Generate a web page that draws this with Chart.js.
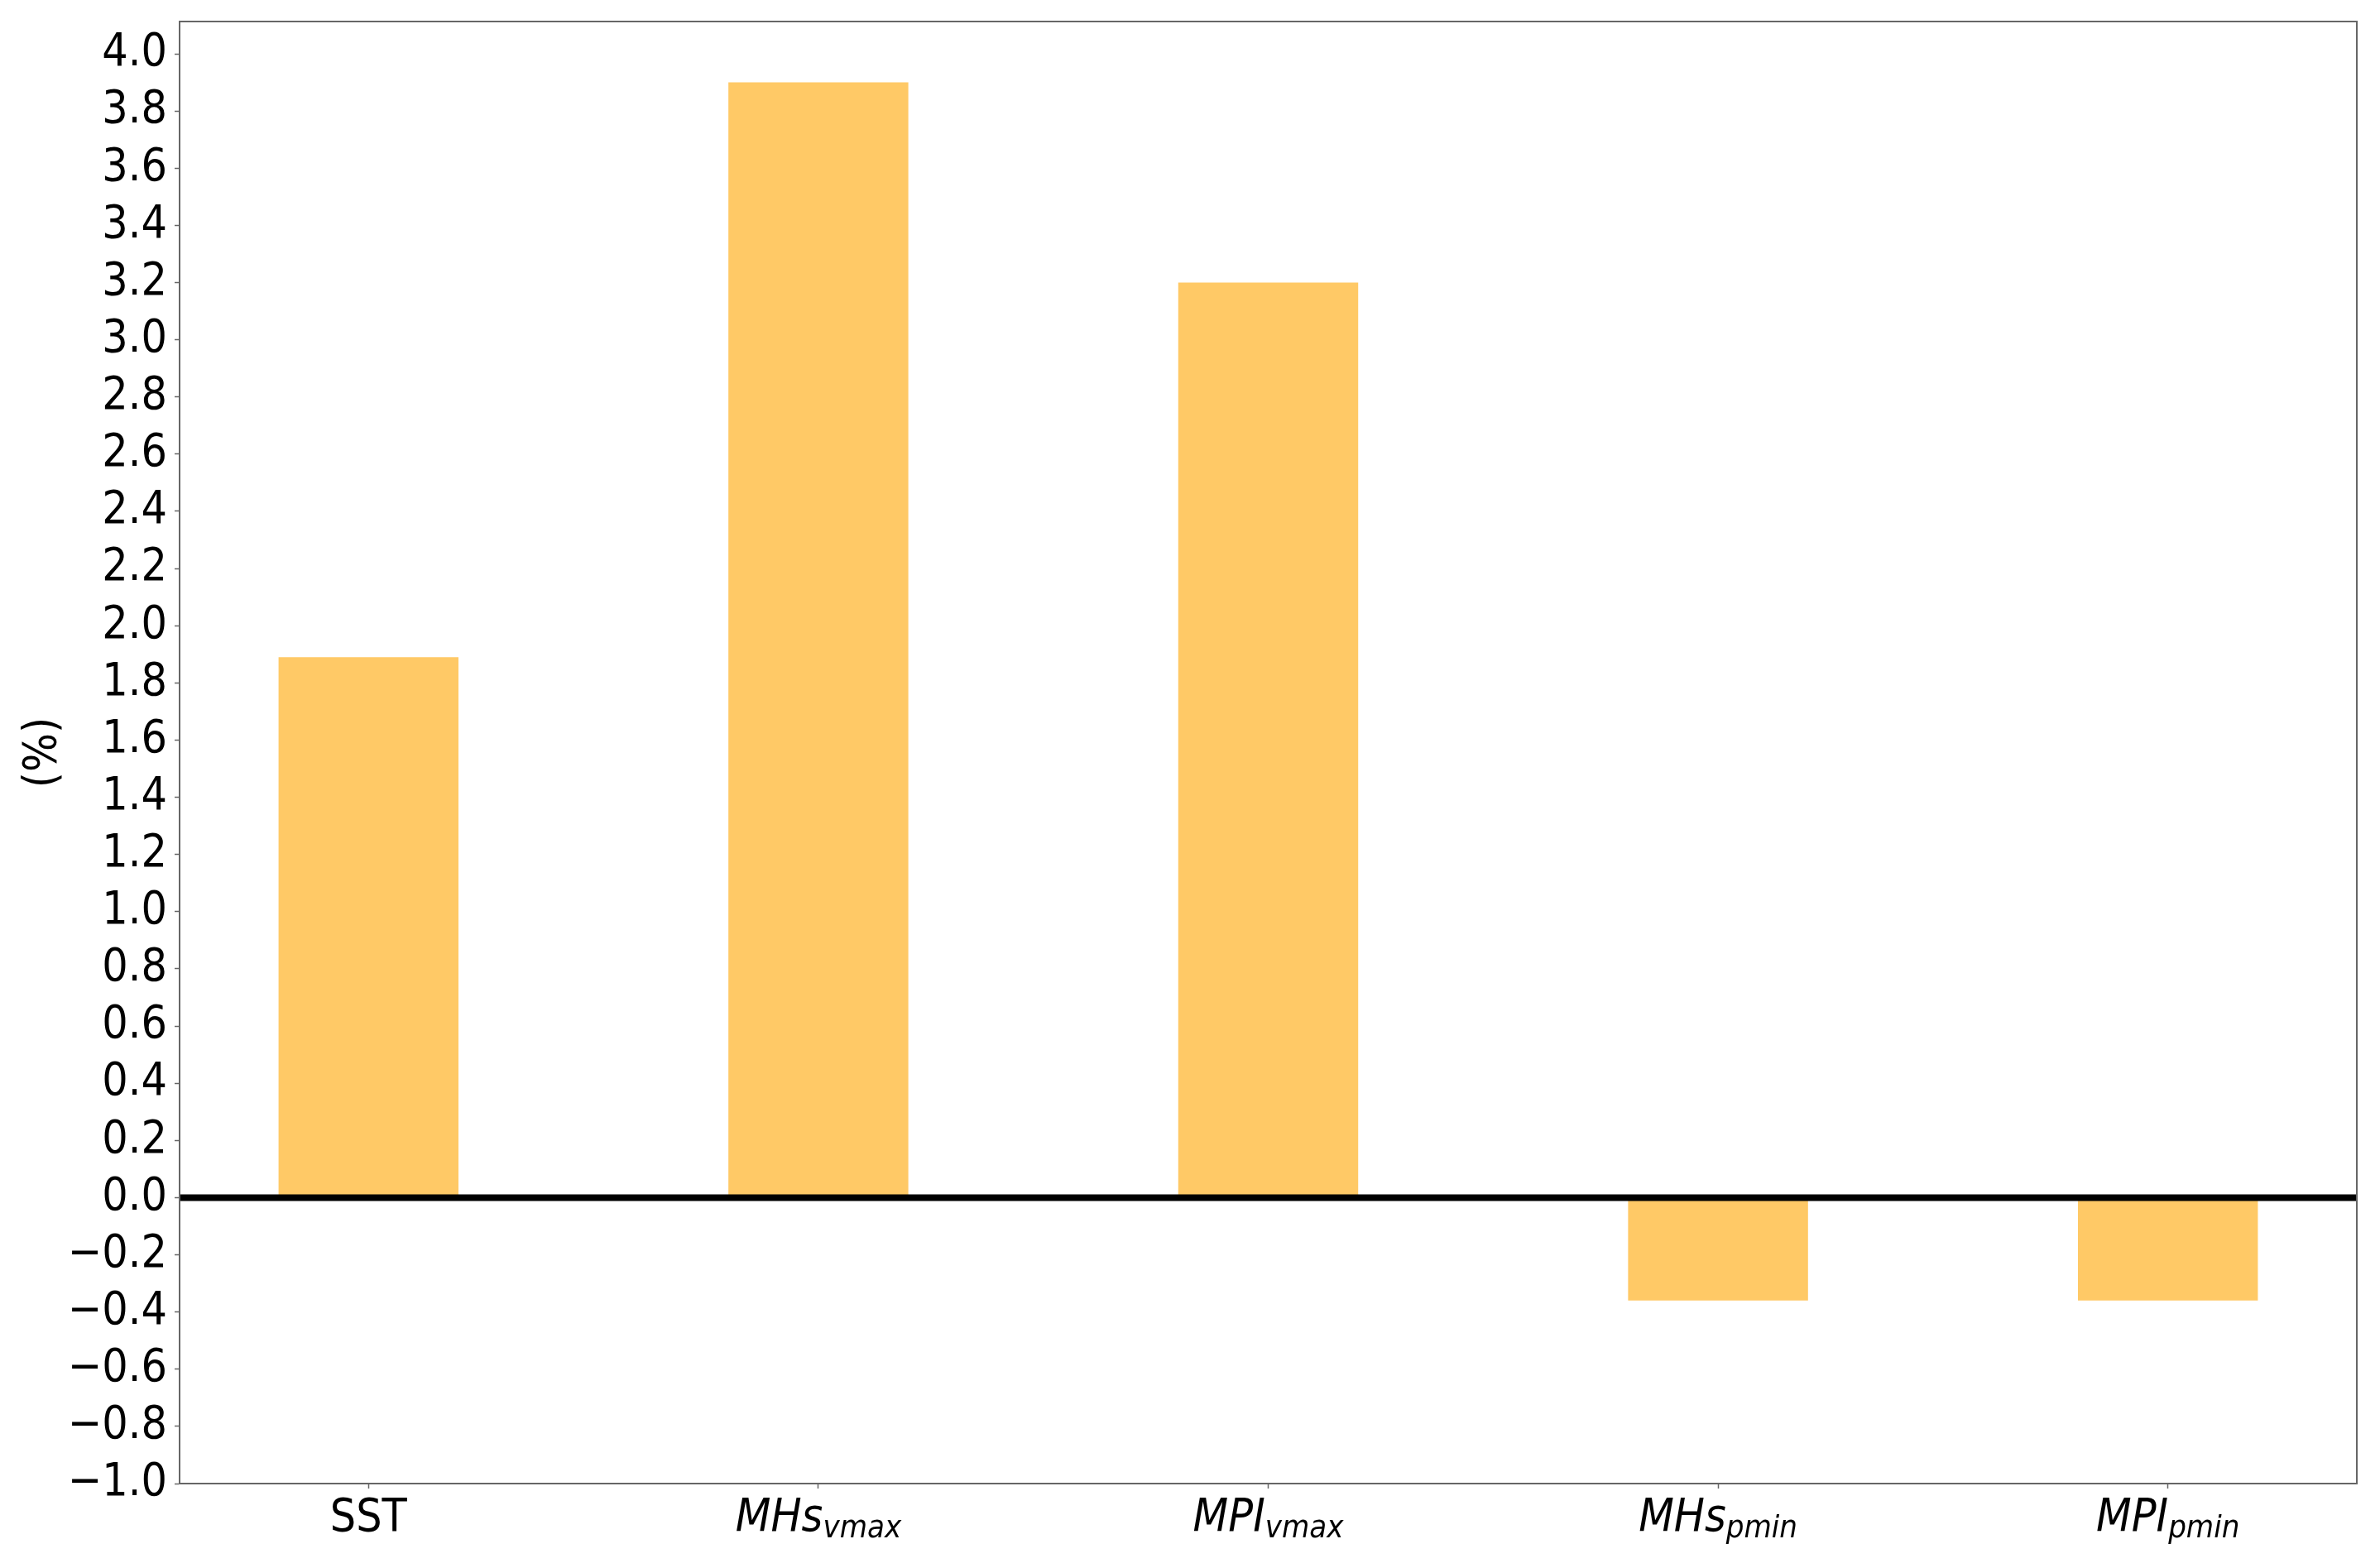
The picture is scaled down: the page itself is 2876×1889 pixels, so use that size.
<!DOCTYPE html>
<html>
<head>
<meta charset="utf-8">
<title>Relative change (%)</title>
<script src="https://cdn.jsdelivr.net/npm/chart.js@4.4.1/dist/chart.umd.min.js"></script>
<style>
    html, body { margin: 0; padding: 0; background: #fff; }
    #wrap { width: 2876px; height: 1889px; }
</style>
</head>
<body>
<div id="wrap"><canvas id="graph-bar" width="2876" height="1889"></canvas></div>
<script>
// chart data
const labelMain = ['SST', 'MHs', 'MPI', 'MHs', 'MPI'];
const labelSub = ['', 'vmax', 'vmax', 'pmin', 'pmin'];
const changes = [1.89, 3.90, 3.20, -0.36, -0.36];
const yTicks = [-1.0, -0.8, -0.6, -0.4, -0.2, 0.0, 0.2, 0.4, 0.6, 0.8, 1.0, 1.2, 1.4, 1.6,
    1.8, 2.0, 2.2, 2.4, 2.6, 2.8, 3.0, 3.2, 3.4, 3.6, 3.8, 4.0];
const yMin = -1.0, yMax = 4.113;
const xMin = -0.42, xMax = 4.42;

const FAMILY = "'DejaVu Sans Condensed', 'DejaVu Sans', sans-serif";
const gb = document.getElementById('graph-bar');

// matplotlib style minus sign
function fmtTick(v) {
    return v.toFixed(1).replace('-', '\u2212');
}

// draws the box round the plot and the x labels with subscripts
const boxAndLabels = {
    id: 'boxAndLabels',
    afterDraw: function(chart) {
        var ctx = chart.ctx;
        var a = chart.chartArea;
        var xs = chart.scales.x;
        ctx.save();
        ctx.strokeStyle = '#666';
        ctx.lineWidth = 2;
        ctx.strokeRect(a.left, a.top, a.right - a.left, a.bottom - a.top);

        ctx.fillStyle = '#000';
        ctx.textBaseline = 'alphabetic';
        ctx.textAlign = 'left';
        var base = a.bottom + 57;
        labelMain.forEach(function(m, i) {
            var sub = labelSub[i];
            var mainFont = (sub ? 'italic ' : '') + '55px ' + FAMILY;
            var subFont = 'italic 38px ' + FAMILY;
            ctx.font = mainFont;
            var wm = ctx.measureText(m).width;
            var ws = 0;
            if (sub) {
                ctx.font = subFont;
                ws = ctx.measureText(sub).width;
            }
            var x0 = xs.getPixelForValue(i) - (wm + ws) / 2;
            ctx.font = mainFont;
            ctx.fillText(m, x0, base);
            if (sub) {
                ctx.font = subFont;
                ctx.fillText(sub, x0 + wm, base + 8);
            }
        });
        ctx.restore();
    }
};

var ch_gb = new Chart(gb, {
    type: 'bar',
    data: {
        datasets: [{
            type: 'line',
            data: [{x: xMin, y: 0}, {x: xMax, y: 0}],
            borderColor: '#000',
            borderWidth: 8,
            pointRadius: 0,
            order: 0
        }, {
            type: 'bar',
            data: changes.map(function(v, i) { return {x: i, y: v}; }),
            backgroundColor: '#ffc966',
            borderWidth: 0,
            categoryPercentage: 1.0,
            barPercentage: 0.4,
            order: 1
        }]
    },
    options: {
        responsive: false,
        animation: false,
        events: [],
        layout: { padding: { top: 26, right: 28, left: 0, bottom: 0 } },
        plugins: {
            legend: { display: false },
            tooltip: { enabled: false }
        },
        scales: {
            x: {
                type: 'linear',
                min: xMin,
                max: xMax,
                offset: false,
                afterBuildTicks: function(scale) {
                    scale.ticks = labelMain.map(function(_, i) { return {value: i}; });
                },
                afterFit: function(scale) {
                    scale.height = 96;
                    scale.paddingLeft = 0;
                    scale.paddingRight = 0;
                },
                ticks: { display: false },
                grid: {
                    offset: false,
                    drawOnChartArea: false,
                    drawTicks: true,
                    tickLength: 6,
                    tickWidth: 1.5,
                    tickColor: '#666'
                },
                border: { color: '#666', width: 2 }
            },
            y: {
                type: 'linear',
                min: yMin,
                max: yMax,
                afterBuildTicks: function(scale) {
                    scale.ticks = yTicks.map(function(v) { return {value: v}; });
                },
                afterFit: function(scale) {
                    scale.width = 217;
                    scale.paddingTop = 0;
                    scale.paddingBottom = 0;
                },
                ticks: {
                    autoSkip: false,
                    padding: 9,
                    color: '#000',
                    font: { family: FAMILY, size: 55 },
                    callback: function(v) { return fmtTick(v); }
                },
                grid: {
                    drawOnChartArea: false,
                    drawTicks: true,
                    tickLength: 6,
                    tickWidth: 1.5,
                    tickColor: '#666'
                },
                border: { color: '#666', width: 2 },
                title: {
                    display: true,
                    text: '(%)',
                    color: '#000',
                    font: { family: FAMILY, size: 55 },
                    padding: { top: 20, bottom: 0 }
                }
            }
        }
    },
    plugins: [boxAndLabels]
});
</script>
</body>
</html>
